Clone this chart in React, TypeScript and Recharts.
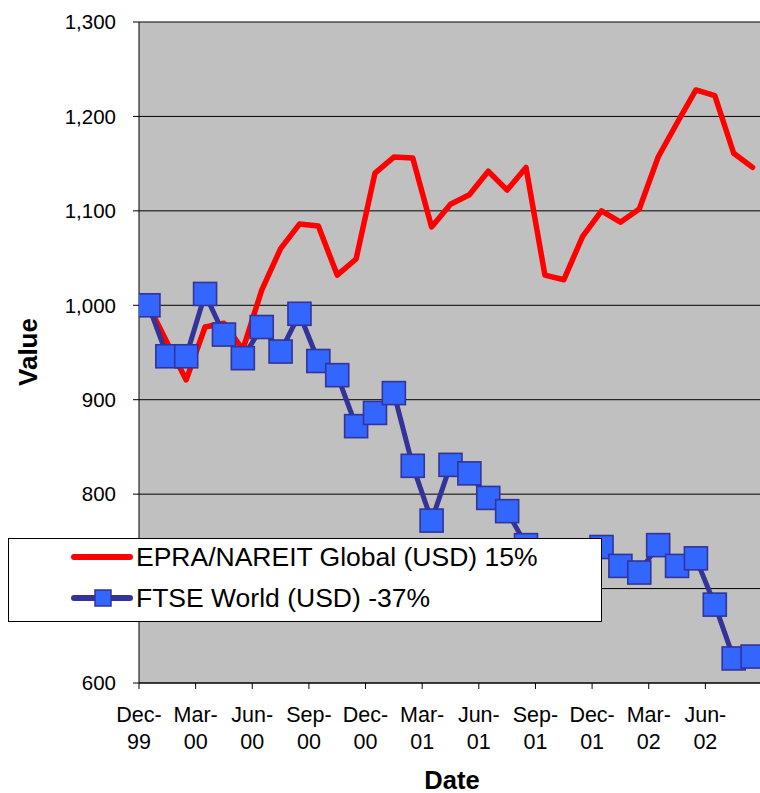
import React from 'react';
import { LineChart, Line, XAxis, YAxis, CartesianGrid, Legend, Label } from 'recharts';

const months = [
  'Dec-99', 'Jan-00', 'Feb-00', 'Mar-00', 'Apr-00', 'May-00', 'Jun-00', 'Jul-00', 'Aug-00',
  'Sep-00', 'Oct-00', 'Nov-00', 'Dec-00', 'Jan-01', 'Feb-01', 'Mar-01', 'Apr-01', 'May-01',
  'Jun-01', 'Jul-01', 'Aug-01', 'Sep-01', 'Oct-01', 'Nov-01', 'Dec-01', 'Jan-02', 'Feb-02',
  'Mar-02', 'Apr-02', 'May-02', 'Jun-02', 'Jul-02', 'Aug-02',
];

const epraValues = [
  1000, 960, 921, 977, 981, 953, 1016, 1060, 1086, 1084, 1032, 1049, 1140, 1157, 1156, 1083,
  1107, 1117, 1142, 1122, 1146, 1032, 1027, 1073, 1100, 1088, 1102, 1157, 1193, 1228, 1222,
  1161, 1146,
];

const ftseValues = [
  1000, 946, 946, 1012, 969, 944, 977, 951, 991, 941, 926, 872, 886, 907, 830, 772, 831, 822,
  796, 782, 746, 678, 700, 735, 744, 724, 717, 746, 724, 732, 683, 626, 628,
];

const tickLabels = [
  'Dec-99', 'Mar-00', 'Jun-00', 'Sep-00', 'Dec-00', 'Mar-01', 'Jun-01', 'Sep-01', 'Dec-01',
  'Mar-02', 'Jun-02',
];

const yTicks = [600, 700, 800, 900, 1000, 1100, 1200, 1300];

const seriesNames = {
  epra: 'EPRA/NAREIT Global (USD) 15%',
  ftse: 'FTSE World (USD) -37%',
};

const data = months.map((m, i) => ({ idx: i, month: m, epra: epraValues[i], ftse: ftseValues[i] }));
const xTicks = tickLabels.map((_, k) => k * 3 - 0.5);

const FONT = "'Liberation Sans', Arial, sans-serif";
const RED = '#ff0000';
const NAVY = '#333399';
const BLUE = '#3366ff';

const XTick = (props: any) => {
  const { x, y, payload } = props;
  const label = tickLabels[Math.round((payload.value + 0.5) / 3)] || '';
  const [a, b] = label.split('-');
  return (
    <g transform={`translate(${x},${y})`}>
      <text textAnchor="middle" fontSize={21.5} fontFamily={FONT} fill="#000">
        <tspan x={0} y={33}>{a}-</tspan>
        <tspan x={0} y={59.5}>{b}</tspan>
      </text>
    </g>
  );
};

const SquareDot = (props: any) => {
  const { cx, cy, index } = props;
  if (cx == null || cy == null) return <g key={`d-${index}`} />;
  return (
    <rect
      key={`d-${index}`}
      x={cx - 11.5}
      y={cy - 11.5}
      width={23}
      height={23}
      fill={BLUE}
      stroke={NAVY}
      strokeWidth={1.6}
    />
  );
};

const renderLegend = (props: any) => {
  const payload = props.payload || [];
  return (
    <svg width={594} height={84} style={{ display: 'block' }}>
      <rect x={0.5} y={0.5} width={593} height={83} fill="#fff" stroke="#000" strokeWidth={1} />
      {payload.map((entry: any, i: number) => {
        const cy = i === 0 ? 19 : 60;
        const isFtse = entry.dataKey === 'ftse';
        return (
          <g key={`leg-${i}`}>
            <line
              x1={66}
              x2={122}
              y1={cy}
              y2={cy}
              stroke={isFtse ? NAVY : RED}
              strokeWidth={6}
              strokeLinecap="round"
            />
            {isFtse && (
              <rect x={87} y={cy - 8} width={16} height={16} fill={BLUE} stroke={NAVY} strokeWidth={1.5} />
            )}
            <text x={128} y={cy + 9.3} fontSize={26.5} fontFamily={FONT} fill="#000">
              {entry.value}
            </text>
          </g>
        );
      })}
    </svg>
  );
};

export default function App() {
  return (
    <div style={{ position: 'absolute', left: 0, top: 0, width: 760, height: 793, overflow: 'hidden', background: '#fff' }}>
      <LineChart width={770} height={793} data={data} margin={{ top: 22, right: 8, bottom: 0, left: 0 }}>
        <CartesianGrid horizontal vertical={false} stroke="#000" strokeWidth={1} fill="#c0c0c0" fillOpacity={1} />
        <XAxis
          dataKey="idx"
          type="number"
          domain={[-0.5, 32.5]}
          ticks={xTicks}
          interval={0}
          height={110}
          tickSize={6}
          tickMargin={0}
          axisLine={{ stroke: '#000', strokeWidth: 1 }}
          tickLine={{ stroke: '#000', strokeWidth: 1 }}
          tick={<XTick />}
          allowDataOverflow
        >
          <Label
            content={() => (
              <text x={452} y={789} textAnchor="middle" fontSize={25.5} fontWeight="bold" fontFamily={FONT} fill="#000">
                Date
              </text>
            )}
          />
        </XAxis>
        <YAxis
          type="number"
          domain={[600, 1300]}
          ticks={yTicks}
          interval={0}
          width={139}
          tickSize={6}
          tickMargin={17}
          axisLine={{ stroke: '#000', strokeWidth: 1 }}
          tickLine={{ stroke: '#000', strokeWidth: 1 }}
          tick={{ fontSize: 20.5, fill: '#000', fontFamily: FONT }}
          tickFormatter={(v: number) => v.toLocaleString('en-US')}
          allowDataOverflow
        >
          <Label
            content={() => (
              <text
                x={28}
                y={352}
                transform="rotate(-90 28 352)"
                textAnchor="middle"
                dominantBaseline="central"
                fontSize={26}
                fontWeight="bold"
                fontFamily={FONT}
                fill="#000"
              >
                Value
              </text>
            )}
          />
        </YAxis>
        <Line
          type="linear"
          dataKey="epra"
          name={seriesNames.epra}
          stroke={RED}
          strokeWidth={5.5}
          strokeLinejoin="round"
          strokeLinecap="round"
          dot={false}
          activeDot={false}
          isAnimationActive={false}
        />
        <Line
          type="linear"
          dataKey="ftse"
          name={seriesNames.ftse}
          stroke={NAVY}
          strokeWidth={5}
          strokeLinejoin="round"
          dot={<SquareDot />}
          activeDot={false}
          isAnimationActive={false}
        />
        <Legend
          layout="vertical"
          align="center"
          verticalAlign="middle"
          content={renderLegend}
          wrapperStyle={{ position: 'absolute', left: 8, top: 538, width: 594, height: 84, margin: 0, padding: 0 }}
        />
      </LineChart>
    </div>
  );
}
